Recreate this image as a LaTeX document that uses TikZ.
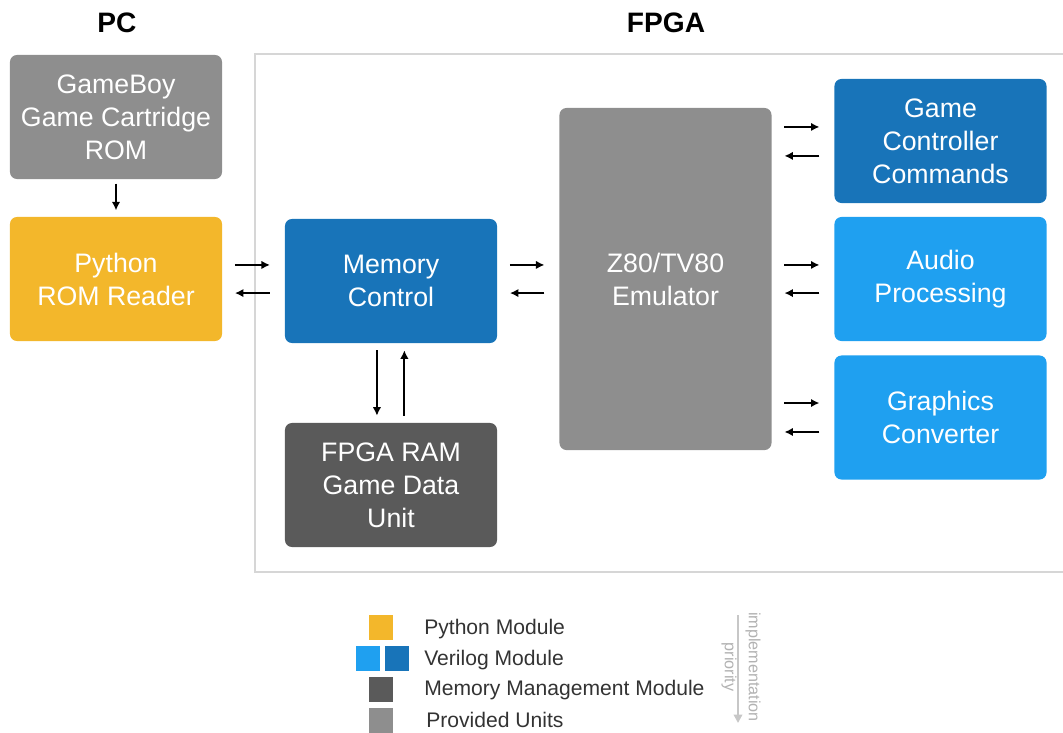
\documentclass[tikz,border=0pt]{standalone}
\usepackage{fontspec}
\setmainfont{Liberation Sans}
\usepackage{tikz}
\usetikzlibrary{arrows.meta,positioning,calc}
\usepackage{xcolor}
\definecolor{pyyellow}{HTML}{F3B72B}
\definecolor{vdarkblue}{HTML}{1874B9}
\definecolor{vlightblue}{HTML}{1FA0F0}
\definecolor{memgray}{HTML}{5A5A5A}
\definecolor{provgray}{HTML}{8E8E8E}
\definecolor{framegray}{HTML}{D6D6D6}

\begin{document}
\begin{tikzpicture}[x=0.025cm, y=-0.025cm,
    modbox/.style={rounded corners=5pt, align=center, text=white, inner sep=0pt, font=\fontsize{19}{23.5}\selectfont, minimum width=5.3cm, minimum height=3.1cm},
    pybox/.style={modbox, fill=pyyellow},
    darkvbox/.style={modbox, fill=vdarkblue},
    lightvbox/.style={modbox, fill=vlightblue},
    membox/.style={modbox, fill=memgray},
    provbox/.style={modbox, fill=provgray},
    title/.style={font=\fontsize{20}{24}\selectfont\bfseries},
    link/.style={line width=1.3pt, -{Latex[length=6pt,width=6pt]}},
    fwd/.style={link, shorten <=9pt, shorten >=10.5pt},
    bwd/.style={link, shorten <=10.5pt, shorten >=9pt},
    legbox/.style={inner sep=0pt, minimum width=0.6cm, minimum height=0.625cm},
    legtext/.style={anchor=west, inner sep=0pt, font=\fontsize{15}{18}\selectfont, text=black!80}
  ]
    \useasboundingbox (0,0) rectangle (1063,732);
    \draw[framegray, line width=1.4pt] (1063,54) -- (255,54) -- (255,572) -- (1063,572);

    \node[title] (pc) at (117,23) {PC};
    \node[title] (fpga) at (666,23) {FPGA};

    \node[provbox] (rom) at (116,117) {GameBoy\\Game Cartridge\\ROM};
    \node[pybox] (python) at (116,279) {Python\\ROM Reader};
    \node[darkvbox] (memctl) at (391,281) {Memory\\Control};
    \node[membox] (ram) at (391,485) {FPGA RAM\\Game Data\\Unit};
    \node[provbox, minimum height=8.55cm] (emu) at (665.5,279) {Z80/TV80\\Emulator};
    \node[darkvbox] (ctrl) at (940.5,141) {Game\\Controller\\Commands};
    \node[lightvbox] (audio) at (940.5,279) {Audio\\Processing};
    \node[lightvbox] (gfx) at (940.5,417.5) {Graphics\\Converter};

    \draw[link, shorten <=3pt, shorten >=4.5pt] (rom) -- (python);

    \draw[fwd] ([yshift=10pt]python.east) -- ([yshift=10pt]python.east -| memctl.west);
    \draw[bwd] ([yshift=-10pt]python.east -| memctl.west) -- ([yshift=-10pt]python.east);

    \draw[fwd] ([yshift=10pt]emu.west -| memctl.east) -- ([yshift=10pt]emu.west);
    \draw[bwd] ([yshift=-10pt]emu.west) -- ([yshift=-10pt]emu.west -| memctl.east);

    \draw[link, shorten <=5pt, shorten >=5pt] ([xshift=-10pt]memctl.south) -- ([xshift=-10pt]ram.north);
    \draw[link, shorten <=5pt, shorten >=5pt] ([xshift=9.5pt]ram.north) -- ([xshift=9.5pt]memctl.south);

    \draw[fwd] ([yshift=10pt]ctrl.west -| emu.east) -- ([yshift=10pt]ctrl.west);
    \draw[bwd] ([yshift=-10.6pt]ctrl.west) -- ([yshift=-10.6pt]ctrl.west -| emu.east);
    \draw[fwd] ([yshift=10pt]audio.west -| emu.east) -- ([yshift=10pt]audio.west);
    \draw[bwd] ([yshift=-10pt]audio.west) -- ([yshift=-10pt]audio.west -| emu.east);
    \draw[fwd] ([yshift=10.3pt]gfx.west -| emu.east) -- ([yshift=10.3pt]gfx.west);
    \draw[bwd] ([yshift=-10.3pt]gfx.west) -- ([yshift=-10.3pt]gfx.west -| emu.east);

    \node[legbox, fill=pyyellow] (legpy) at (381,627.5) {};
    \node[legbox, fill=vlightblue] (legvlight) at (367.5,658.5) {};
    \node[legbox, fill=vdarkblue] (legvdark) at (396.5,658.5) {};
    \node[legbox, fill=memgray] (legmem) at (381,689.5) {};
    \node[legbox, fill=provgray] (legprov) at (381,720.5) {};
    \node[legtext] (txtpy) at (424,629) {Python Module};
    \node[legtext] (txtv) at (424,660) {Verilog Module};
    \node[legtext] (txtmem) at (424,690) {Memory Management Module};
    \node[legtext] (txtprov) at (426,720) {Provided Units};

    \coordinate (prioTop) at (738,615);
    \coordinate (prioBot) at (738,723);
    \draw[black!22, line width=1.5pt, -{Triangle[length=6pt,width=6pt]}] (prioTop) -- (prioBot);
    \node[rotate=-90, align=center, text=black!30, font=\fontsize{11.5}{17}\selectfont] (prio) at (741,667) {implementation\\priority};
  \end{tikzpicture}
\end{document}
